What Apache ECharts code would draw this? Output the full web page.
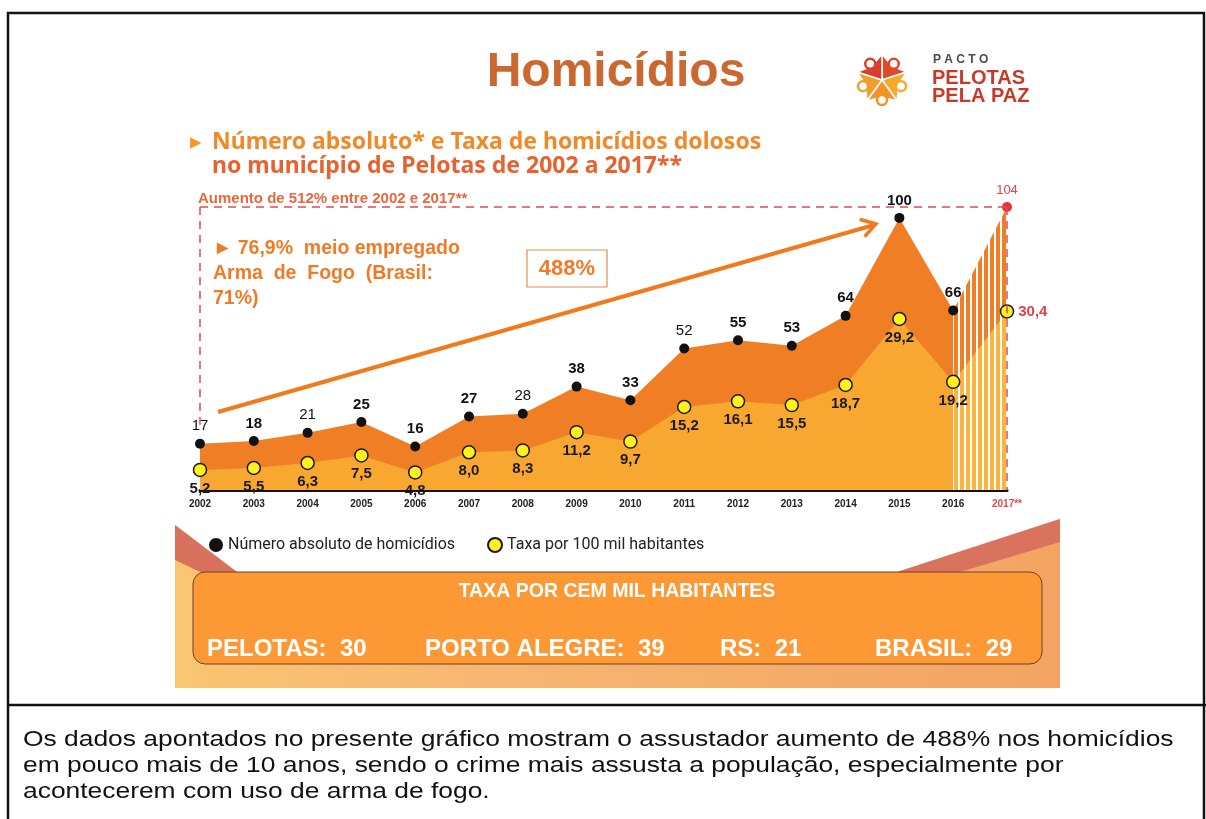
<!DOCTYPE html>
<html>
<head>
<meta charset="utf-8">
<title>Homicídios</title>
<script src="https://cdn.jsdelivr.net/npm/echarts@6/dist/echarts.min.js"></script>
<style>
    html, body { margin: 0; padding: 0; background: #fff; }
    #main { width: 1206px; height: 819px; }
</style>
</head>
<body>
<div id="main"></div>
<script>
// anos do eixo x (2017 é projeção)
const years = ['2002', '2003', '2004', '2005', '2006', '2007', '2008', '2009',
    '2010', '2011', '2012', '2013', '2014', '2015', '2016', '2017**']
// número absoluto de homicídios
const absoluteValues = [17, 18, 21, 25, 16, 27, 28, 38, 33, 52, 55, 53, 64, 100, 66, 104]
// taxa por 100 mil habitantes
const rateValues = [5.2, 5.5, 6.3, 7.5, 4.8, 8.0, 8.3, 11.2, 9.7, 15.2, 16.1, 15.5, 18.7, 29.2, 19.2, 30.4]
// anos em que o rótulo preto aparece sem negrito
const thinYears = ['2002', '2004', '2008', '2011']
// quadro de taxas por cem mil habitantes
const cityNames = ['PELOTAS', 'PORTO ALEGRE', 'RS', 'BRASIL']
const cityRates = [30, 39, 21, 29]

const FONT = '"Liberation Sans", Arial, sans-serif'
const lastIdx = years.length - 1

const fmt = (v) => v.toFixed(1).replace('.', ',')

// listras verticais para o trecho projetado
function makeStripes(color) {
    const c = document.createElement('canvas')
    c.width = 6
    c.height = 4
    const ctx = c.getContext('2d')
    ctx.fillStyle = '#ffffff'
    ctx.fillRect(0, 0, 6, 4)
    ctx.fillStyle = color
    ctx.fillRect(0, 0, 4, 4)
    return c
}

// séries sólidas até 2016
const blackSolid = absoluteValues.map((v, i) => {
    if (i === lastIdx) return '-'
    return {
        value: v,
        label: { fontWeight: thinYears.includes(years[i]) ? 'normal' : 'bold' },
    }
})
const yellowSolid = rateValues.map((v, i) => (i === lastIdx ? '-' : v))

// trecho 2016 -> 2017 com listras
const blackHatch = absoluteValues.map((v, i) => {
    if (i === lastIdx - 1) return { value: v, symbol: 'none', label: { show: false } }
    if (i === lastIdx) {
        return {
            value: v,
            itemStyle: { color: '#E8303A' },
            label: { show: true, color: '#E5404A', fontWeight: 'normal', fontSize: 13 },
        }
    }
    return '-'
})
const yellowHatch = rateValues.map((v, i) => {
    if (i === lastIdx - 1) return { value: v, symbol: 'none', label: { show: false } }
    if (i === lastIdx) {
        return {
            value: v,
            label: { show: true, position: 'right', distance: 4, color: '#E5404A', fontSize: 15 },
        }
    }
    return '-'
})

// --- elementos decorativos ---
const graphics = []

// fundo da faixa inferior da imagem
graphics.push({
    type: 'rect', z: -10, silent: true,
    shape: { x: 175, y: 515, width: 885, height: 173 },
    style: {
        fill: new echarts.graphic.LinearGradient(0, 0, 1, 0, [
            { offset: 0, color: '#F9C672' },
            { offset: 0.35, color: '#F6B673' },
            { offset: 1, color: '#F3A463' },
        ]),
    },
})
graphics.push({
    type: 'polygon', z: -9, silent: true,
    shape: { points: [[175, 515], [1060, 515], [1060, 519], [897, 572], [237, 572], [175, 525]] },
    style: { fill: '#ffffff' },
})
graphics.push({
    type: 'polygon', z: -9, silent: true,
    shape: { points: [[175, 525], [237, 572], [200, 572], [175, 560]] },
    style: { fill: '#D9725C' },
})
graphics.push({
    type: 'polygon', z: -9, silent: true,
    shape: { points: [[1060, 519], [1060, 542], [960, 572], [897, 572]] },
    style: { fill: '#D9735E' },
})

// quadro laranja
graphics.push({
    type: 'rect', z: 5, silent: true,
    shape: { x: 193, y: 572, width: 849, height: 92, r: 12 },
    style: { fill: '#FC9935', stroke: '#6E3E22', lineWidth: 1 },
})
graphics.push({
    type: 'text', z: 6, silent: true,
    style: {
        x: 617, y: 592, text: 'TAXA POR CEM MIL HABITANTES',
        font: 'bold 19.5px ' + FONT, fill: '#ffffff',
        textAlign: 'center', align: 'center', textVerticalAlign: 'middle', verticalAlign: 'middle',
    },
})
const cityX = [207, 425, 720, 875]
cityNames.forEach((name, i) => {
    graphics.push({
        type: 'text', z: 6, silent: true,
        style: {
            x: cityX[i], y: 649, text: name + ':  ' + cityRates[i],
            font: 'bold 24px ' + FONT, fill: '#ffffff',
            textVerticalAlign: 'middle', verticalAlign: 'middle',
        },
    })
})

// título
graphics.push({
    type: 'text', z: 6, silent: true,
    style: {
        x: 616, y: 73, text: 'Homicídios', font: 'bold 48px ' + FONT, fill: '#CB6832',
        textAlign: 'center', align: 'center', textVerticalAlign: 'middle', verticalAlign: 'middle',
    },
})

// logotipo Pacto Pelotas pela Paz
const logoCx = 882
const logoCy = 80
const logoColors = ['#DE4A2C', '#F7A92C', '#F39226', '#F29C2E', '#D7402A']
for (let k = 0; k < 5; k++) {
    const a1 = (-90 + k * 72) * Math.PI / 180
    const a2 = (-90 + (k + 1) * 72) * Math.PI / 180
    const am = (a1 + a2) / 2
    graphics.push({
        type: 'polygon', z: 6, silent: true,
        shape: {
            points: [
                [logoCx, logoCy],
                [logoCx + 26 * Math.cos(a1), logoCy + 26 * Math.sin(a1)],
                [logoCx + 17 * Math.cos(am), logoCy + 17 * Math.sin(am)],
                [logoCx + 26 * Math.cos(a2), logoCy + 26 * Math.sin(a2)],
            ],
        },
        style: { fill: logoColors[k], stroke: '#ffffff', lineWidth: 1.5 },
    })
    graphics.push({
        type: 'circle', z: 7, silent: true,
        shape: { cx: logoCx + 20 * Math.cos(am), cy: logoCy + 20 * Math.sin(am), r: 5 },
        style: { fill: '#ffffff', stroke: logoColors[k], lineWidth: 2.5 },
    })
}
graphics.push({
    type: 'text', z: 6, silent: true,
    style: { x: 933, y: 60, text: 'P A C T O', font: 'bold 12px ' + FONT, fill: '#4A4A4A', verticalAlign: 'middle', textVerticalAlign: 'middle' },
})
graphics.push({
    type: 'text', z: 6, silent: true,
    style: { x: 932, y: 78, text: 'PELOTAS', font: 'bold 20px ' + FONT, fill: '#C73A2A', verticalAlign: 'middle', textVerticalAlign: 'middle' },
})
graphics.push({
    type: 'text', z: 6, silent: true,
    style: { x: 932, y: 96, text: 'PELA PAZ', font: 'bold 20px ' + FONT, fill: '#C73A2A', verticalAlign: 'middle', textVerticalAlign: 'middle' },
})

// subtítulo
graphics.push({
    type: 'text', z: 6, silent: true,
    style: { x: 190, y: 143, text: '▶', font: 'bold 15px "DejaVu Sans"', fill: '#F39A2B', verticalAlign: 'middle', textVerticalAlign: 'middle' },
})
graphics.push({
    type: 'text', z: 6, silent: true,
    style: {
        x: 212, y: 142, text: 'Número absoluto* e Taxa de homicídios dolosos',
        font: 'bold 23px "Noto Sans", sans-serif', fill: '#F08A28',
        verticalAlign: 'middle', textVerticalAlign: 'middle',
    },
})
graphics.push({
    type: 'text', z: 6, silent: true,
    style: {
        x: 212, y: 166, text: 'no município de Pelotas de 2002 a 2017**',
        font: 'bold 23px "Noto Sans", sans-serif', fill: '#E6622E',
        verticalAlign: 'middle', textVerticalAlign: 'middle',
    },
})

// anotações do gráfico
graphics.push({
    type: 'text', z: 6, silent: true,
    style: {
        x: 198, y: 199, text: 'Aumento de 512% entre 2002 e 2017**',
        font: 'bold 15px ' + FONT, fill: '#E8673F',
        verticalAlign: 'middle', textVerticalAlign: 'middle',
    },
})
graphics.push({
    type: 'text', z: 6, silent: true,
    style: {
        x: 213, y: 236, text: '► 76,9%  meio empregado\nArma  de  Fogo  (Brasil:\n71%)',
        font: 'bold 19.5px ' + FONT, fill: '#F07B26', lineHeight: 25,
        verticalAlign: 'top', textVerticalAlign: 'top',
    },
})
graphics.push({
    type: 'rect', z: 6, silent: true,
    shape: { x: 527, y: 250, width: 80, height: 37 },
    style: { fill: '#ffffff', stroke: '#E9894D', lineWidth: 1.2 },
})
graphics.push({
    type: 'text', z: 7, silent: true,
    style: {
        x: 567, y: 269, text: '488%', font: 'bold 22px ' + FONT, fill: '#F07B26',
        textAlign: 'center', align: 'center', textVerticalAlign: 'middle', verticalAlign: 'middle',
    },
})

// seta de crescimento
const arrowFrom = [218, 412]
const arrowTo = [876, 224]
const ang = Math.atan2(arrowTo[1] - arrowFrom[1], arrowTo[0] - arrowFrom[0])
const headLen = 17
const headA = 32 * Math.PI / 180
graphics.push({
    type: 'line', z: 6, silent: true,
    shape: { x1: arrowFrom[0], y1: arrowFrom[1], x2: arrowTo[0] - 2, y2: arrowTo[1] + 1 },
    style: { stroke: '#F07A1E', lineWidth: 4 },
})
graphics.push({
    type: 'polyline', z: 6, silent: true,
    shape: {
        points: [
            [arrowTo[0] - headLen * Math.cos(ang - headA), arrowTo[1] - headLen * Math.sin(ang - headA)],
            arrowTo,
            [arrowTo[0] - headLen * Math.cos(ang + headA), arrowTo[1] - headLen * Math.sin(ang + headA)],
        ],
    },
    style: { stroke: '#F07A1E', lineWidth: 3.5, fill: null },
})

// texto explicativo da célula inferior (levemente esticado na horizontal)
graphics.push({
    type: 'text', z: 6, silent: true,
    x: 23, y: 727, scaleX: 1.2,
    style: {
        x: 0, y: 0,
        text: 'Os dados apontados no presente gráfico mostram o assustador aumento de 488% nos homicídios\n'
            + 'em pouco mais de 10 anos, sendo o crime mais assusta a população, especialmente por\n'
            + 'acontecerem com uso de arma de fogo.',
        font: '22px ' + FONT, fill: '#111111', lineHeight: 26,
    },
})

// moldura da tabela
graphics.push({
    type: 'rect', z: 20, silent: true,
    shape: { x: 8, y: 13, width: 1196, height: 820 },
    style: { fill: null, stroke: '#111111', lineWidth: 2.5 },
})
graphics.push({
    type: 'line', z: 20, silent: true,
    shape: { x1: 8, y1: 705, x2: 1206, y2: 705 },
    style: { stroke: '#111111', lineWidth: 2.5 },
})

const chartInstance = echarts.init(document.getElementById('main'))

const option = {
    backgroundColor: '#ffffff',
    animation: false,
    grid: { left: 200, right: 199, top: 207, bottom: 329, containLabel: false },
    legend: {
        data: ['Número absoluto de homicídios', 'Taxa por 100 mil habitantes'],
        left: 204,
        top: 532,
        icon: 'circle',
        itemWidth: 14,
        itemHeight: 14,
        itemGap: 32,
        textStyle: { fontFamily: 'Roboto', fontSize: 16, color: '#222' },
    },
    xAxis: {
        type: 'category',
        data: years,
        boundaryGap: false,
        axisLine: { lineStyle: { color: '#111', width: 3 } },
        axisTick: { show: false },
        splitLine: { show: false },
        axisLabel: {
            interval: 0,
            margin: 9,
            fontFamily: FONT,
            fontSize: 10,
            fontWeight: 'bold',
            color: '#222',
            formatter: (v) => (v === '2017**' ? '{red|' + v + '}' : v),
            rich: { red: { color: '#E5484D', fontSize: 10, fontWeight: 'bold' } },
        },
    },
    yAxis: [
        { type: 'value', min: 0, max: 104, show: false },
        { type: 'value', min: 2, max: 47, show: false },
    ],
    graphic: { elements: graphics },
    series: [
        {
            name: 'Número absoluto de homicídios',
            type: 'line',
            yAxisIndex: 0,
            data: blackSolid,
            symbol: 'circle',
            symbolSize: 10,
            showAllSymbol: true,
            lineStyle: { width: 0 },
            itemStyle: { color: '#111111' },
            areaStyle: { color: '#EF7E24', opacity: 1 },
            label: {
                show: true,
                position: 'top',
                distance: 5,
                fontFamily: FONT,
                fontSize: 15,
                color: '#111',
            },
            z: 2,
            markLine: {
                silent: true,
                symbol: 'none',
                label: { show: false },
                lineStyle: { type: [8, 6], color: '#E24A55', width: 1.5 },
                data: [
                    [{ coord: ['2002', 104] }, { coord: ['2017**', 104] }],
                    [{ coord: ['2017**', 104] }, { coord: ['2017**', 0] }],
                    [{ coord: ['2002', 104] }, { coord: ['2002', 24] }],
                ],
            },
        },
        {
            name: 'projecao-absoluto',
            type: 'line',
            yAxisIndex: 0,
            data: blackHatch,
            symbol: 'circle',
            symbolSize: 10,
            lineStyle: { width: 0 },
            itemStyle: { color: '#111111' },
            areaStyle: { color: { image: makeStripes('#EF7E24'), repeat: 'repeat' }, opacity: 1 },
            label: { show: false, position: 'top', distance: 5, fontFamily: FONT },
            z: 2,
        },
        {
            name: 'Taxa por 100 mil habitantes',
            type: 'line',
            yAxisIndex: 1,
            data: yellowSolid,
            symbol: 'circle',
            symbolSize: 13,
            showAllSymbol: true,
            lineStyle: { width: 0 },
            itemStyle: { color: '#FFF01E', borderColor: '#1a1a1a', borderWidth: 1.5 },
            areaStyle: { color: '#F8A731', opacity: 1 },
            label: {
                show: true,
                position: 'bottom',
                distance: 4,
                fontFamily: FONT,
                fontSize: 15,
                fontWeight: 'bold',
                color: '#1a1a1a',
                formatter: (p) => fmt(p.value),
            },
            z: 3,
        },
        {
            name: 'projecao-taxa',
            type: 'line',
            yAxisIndex: 1,
            data: yellowHatch,
            symbol: 'circle',
            symbolSize: 13,
            lineStyle: { width: 0 },
            itemStyle: { color: '#FFF01E', borderColor: '#1a1a1a', borderWidth: 1.5 },
            areaStyle: { color: { image: makeStripes('#FBB53E'), repeat: 'repeat' }, opacity: 1 },
            label: {
                show: false,
                fontFamily: FONT,
                fontWeight: 'bold',
                formatter: (p) => fmt(p.value),
            },
            z: 3,
        },
    ],
}

chartInstance.setOption(option)
</script>
</body>
</html>
